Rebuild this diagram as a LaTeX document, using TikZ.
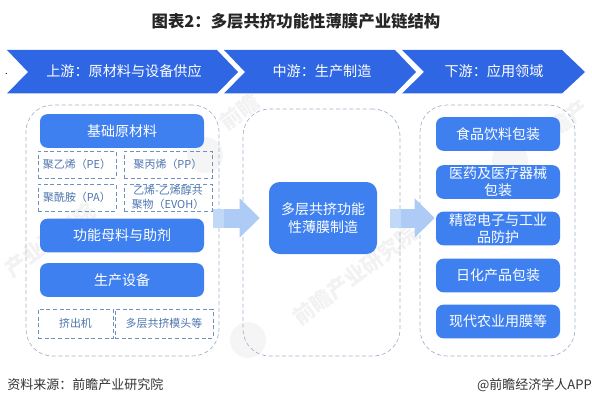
\documentclass[tikz,border=0pt]{standalone}
\usepackage{fontspec}
\setmainfont{Noto Sans CJK SC}
\usepackage{tikz}
\usetikzlibrary{arrows.meta,calc,positioning}
\definecolor{bannerblue}{HTML}{2F66E3}
\definecolor{boxblue}{HTML}{3F80F0}
\definecolor{dashgray}{HTML}{9FB2C9}
\definecolor{labelblue}{HTML}{4C74AE}
\definecolor{arrowblue}{HTML}{AECBF6}
\tikzset{
  banner/.style={fill=bannerblue},
  bannertext/.style={text=white,font=\fontsize{10.6}{12}\selectfont},
  container/.style={draw=dashgray,densely dashed,line width=0.5pt,rounded corners=20pt,inner sep=0pt},
  bluebox/.style={fill=boxblue,rounded corners=5.5pt,text=white,align=center,inner sep=0pt,font=\fontsize{10.5}{12.8}\selectfont},
  leftbox/.style={bluebox,minimum width=123pt,minimum height=25.2pt},
  rightbox/.style={bluebox,minimum width=93pt,minimum height=25.2pt},
  smallbox/.style={draw=labelblue!80,densely dashed,line width=0.5pt,text=labelblue,align=center,inner sep=0pt,font=\fontsize{8.2}{10.5}\selectfont},
  flowarrow/.style={-{Triangle[length=15pt,width=28.5pt]},draw=arrowblue,line width=14.25pt},
  watermark/.style={text=black!5,rotate=37,inner sep=0pt,font=\bfseries\fontsize{16}{18}\selectfont},
}

\begin{document}
\begin{tikzpicture}[x=0.75pt,y=-0.75pt]
  \useasboundingbox (0,0) rectangle (592,406);
  \clip (0,0) rectangle (592,406);
  % faint marks behind the chart
  \node[watermark] (markA) at (240,112) {前瞻};
  \node[watermark] (markB) at (355,275) {前瞻产业研究院};
  \node[watermark] (markC) at (560,125) {前瞻产};
  \node[watermark] (markD) at (50,240) {产业研究院};
  \fill[black!4] (205,155) circle (13.5pt);
  \fill[black!4] (248,340) circle (13.5pt);
  \fill[black!4] (510,160) circle (13.5pt);

  \node[font=\bfseries\fontsize{12.3}{14}\selectfont,text=black!85] (title) at (296,21) {图表2：多层共挤功能性薄膜产业链结构};

  % header chevrons
  \fill[banner] (7,50) -- (217,50) -- (238,72) -- (217,93.5) -- (7,93.5) -- (28,72) -- cycle;
  \fill[banner] (224,50) -- (395,50) -- (416,72) -- (395,93.5) -- (224,93.5) -- (245,72) -- cycle;
  \fill[banner] (402,50) -- (562,50) -- (585,72) -- (562,93.5) -- (402,93.5) -- (424,72) -- cycle;
  \node[bannertext] (upstreamhead) at (124,71) {上游：原材料与设备供应};
  \node[bannertext] (midstreamhead) at (322,71) {中游：生产制造};
  \node[bannertext] (downstreamhead) at (494,71) {下游：应用领域};
  \node[font=\fontsize{7}{8}\selectfont] (dotmark) at (6.5,74) {.};

  % dashed frames
  \node[container,minimum width=144.75pt,minimum height=188.25pt] (upstream) at (122.5,230.5) {};
  \node[container,minimum width=117.75pt,minimum height=185.25pt] (midstream) at (321.5,232.5) {};
  \node[container,minimum width=116.25pt,minimum height=188.25pt] (downstream) at (497.5,230.5) {};

  % left column
  \node[leftbox] (rawbase) at (122,131) {基础原材料};
  \node[smallbox,minimum width=58.5pt,minimum height=20.25pt] (pe) at (77,164.5) {聚乙烯（PE）};
  \node[smallbox,minimum width=66pt,minimum height=20.25pt] (pp) at (168,164.5) {聚丙烯（PP）};
  \node[smallbox,minimum width=58.5pt,minimum height=20.25pt] (pa) at (77,197.5) {聚酰胺（PA）};
  \node[smallbox,minimum width=66pt,minimum height=20.25pt] (evoh) at (168,197.5) {乙烯-乙烯醇共\\聚物（EVOH）};
  \node[leftbox] (additive) at (122,235.5) {功能母料与助剂};
  \node[leftbox] (equipment) at (122,280) {生产设备};
  \node[smallbox,minimum width=56.25pt,minimum height=21.75pt] (extruder) at (75.5,323.5) {挤出机};
  \node[smallbox,minimum width=73.5pt,minimum height=21.75pt] (diehead) at (164,323.5) {多层共挤模头等};

  % middle
  \node[bluebox,rounded corners=8pt,minimum width=81pt,minimum height=54pt,font=\fontsize{10.5}{13.5}\selectfont] (core) at (323,218) {多层共挤功能\\性薄膜制造};

  % right column
  \node[rightbox] (food) at (498,134) {食品饮料包装};
  \node[rightbox] (medical) at (498,182) {医药及医疗器械\\包装};
  \node[rightbox] (electronics) at (498,228.5) {精密电子与工业\\品防护};
  \node[rightbox] (daily) at (498,275.5) {日化产品包装};
  \node[rightbox] (farming) at (498,321.5) {现代农业用膜等};

  % block arrows
  \draw[flowarrow,shorten <=-4.5pt,shorten >=6.75pt] (core -| upstream.east) -- (core.west);
  \draw[flowarrow,shorten <=9.75pt,shorten >=0.75pt] (core.east) -- (core -| electronics.west);
  \fill[white,opacity=0.25] (213,208.5) rectangle (224,227.5);
  \fill[white,opacity=0.25] (390,208.5) rectangle (401,227.5);

  % footer
  \node[anchor=west,inner sep=0pt,font=\fontsize{9.75}{11}\selectfont,text=black!80] (source) at (7,385) {资料来源：前瞻产业研究院};
  \node[anchor=east,inner sep=0pt,font=\fontsize{9.75}{11}\selectfont,text=black!80] (brand) at (592,385) {@前瞻经济学人APP};
\end{tikzpicture}
\end{document}
